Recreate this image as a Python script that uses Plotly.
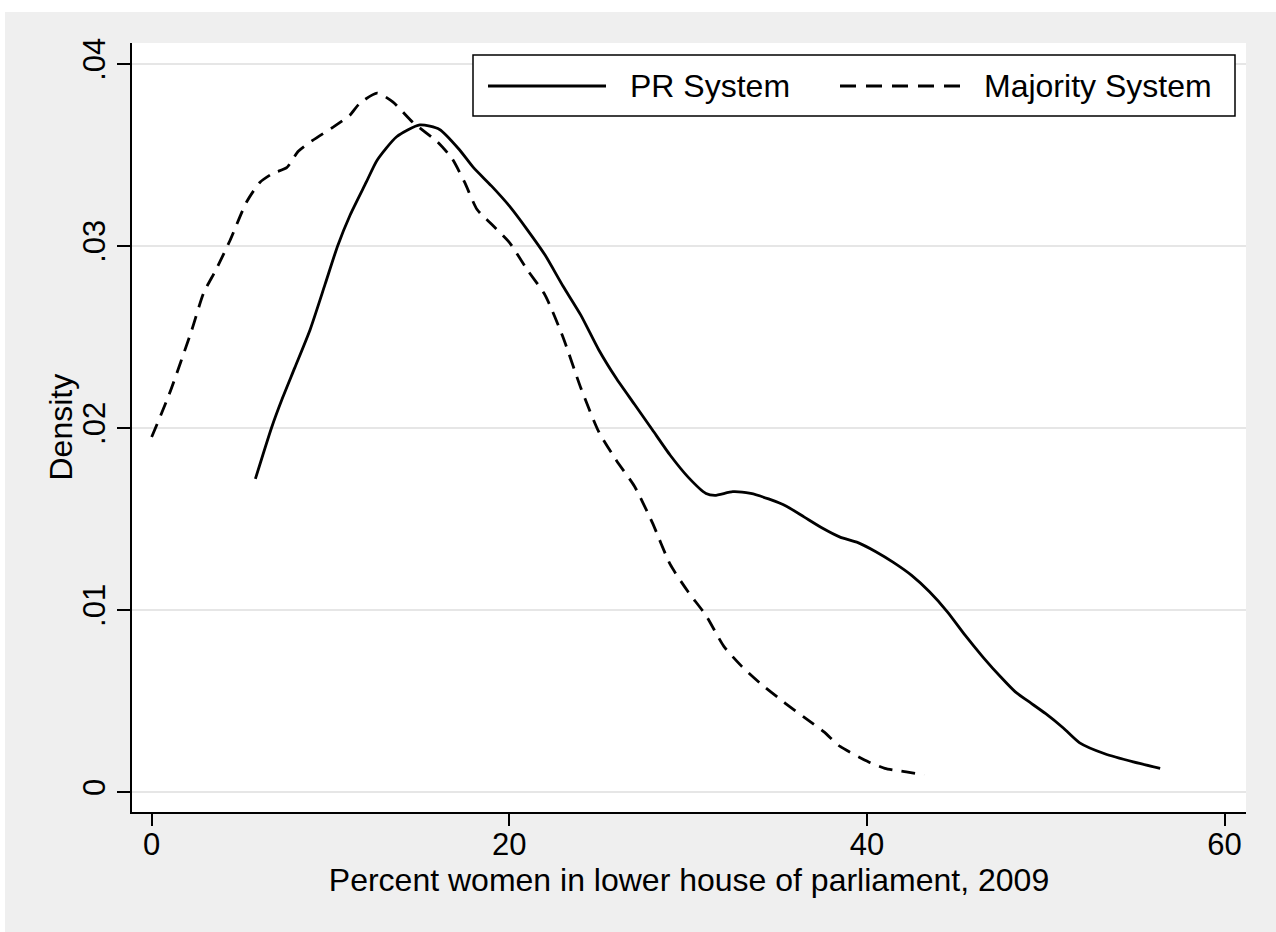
import plotly.graph_objects as go

# Kernel density estimates of percent women in the lower house (2009)
pr_x = [5.8, 6.7, 7.3, 8.0, 8.86, 9.7, 10.4, 11.1, 12.0, 12.6, 13.7, 15.0, 16.1, 17.2,
        18.0, 19.0, 20.0, 21.0, 22.0, 23.0, 24.0, 25.0, 26.0, 27.0, 28.0, 29.0, 30.0,
        31.0, 31.5, 32.5, 33.5, 34.5, 35.5, 36.5, 37.5, 38.5, 39.5, 40.5, 41.5, 42.5,
        43.5, 44.5, 45.5, 46.5, 47.5, 48.3, 49.0, 50.0, 51.0, 51.9, 53.3, 54.9, 56.4]
pr_y = [0.0172, 0.0200, 0.0216, 0.0233, 0.0254, 0.0279, 0.0300, 0.0317, 0.0335, 0.0347,
        0.0360, 0.03665, 0.0364, 0.0353, 0.0343, 0.0333, 0.0322, 0.0309, 0.0295, 0.0278,
        0.0262, 0.0243, 0.0227, 0.0213, 0.0199, 0.0185, 0.0173, 0.0164, 0.0163, 0.0165,
        0.0164, 0.0161, 0.0157, 0.0151, 0.0145, 0.0140, 0.0137, 0.0132, 0.0126, 0.0119,
        0.0110, 0.0099, 0.0086, 0.0074, 0.0063, 0.0055, 0.0050, 0.0043, 0.0035, 0.0027,
        0.0021, 0.00165, 0.0013]

maj_x = [0.0, 1.0, 2.25, 2.9, 3.6, 4.38, 5.3, 6.06, 6.8, 7.55, 8.2, 9.0, 10.1, 11.1, 11.6,
         12.6, 13.5, 14.6, 16.0, 16.8, 17.5, 18.2, 19.0, 20.0, 21.0, 22.0, 23.0, 24.0,
         25.0, 26.0, 27.0, 28.0, 29.0, 30.0, 31.0, 32.0, 33.0, 34.0, 35.4, 36.5, 37.6,
         38.5, 40.1, 41.0, 42.2, 43.2]
maj_y = [0.0195, 0.0219, 0.0254, 0.0274, 0.0287, 0.0303, 0.0324, 0.0335, 0.0340, 0.0343,
         0.0352, 0.0358, 0.0365, 0.0372, 0.0378, 0.0384, 0.0379, 0.0368, 0.0357, 0.0348,
         0.0335, 0.0320, 0.0312, 0.0302, 0.0287, 0.0273, 0.0250, 0.0222, 0.0198, 0.0182,
         0.0168, 0.0148, 0.0125, 0.0110, 0.0097, 0.0080, 0.0069, 0.0060, 0.0049, 0.0041,
         0.0033, 0.0025, 0.00165, 0.0013, 0.0011, 0.00093]

x_ticks = [0, 20, 40, 60]
y_ticks = [0, 0.01, 0.02, 0.03, 0.04]
y_ticktext = ["0", ".01", ".02", ".03", ".04"]
series_names = ["PR System", "Majority System"]
x_title = "Percent women in lower house of parliament, 2009"
y_title = "Density"

W, H = 1276, 932
ML, MR, MT, MB = 132, 30, 43, 120
PW, PH = W - ML - MR, H - MT - MB
LW = 2.8


def px_x(p):
    return (p - ML) / PW


def px_y(p):
    return (H - MB - p) / PH


FONT = "Liberation Sans, Arial, Helvetica, sans-serif"
BG = "#efefef"

fig = go.Figure()
fig.add_trace(go.Scatter(x=pr_x, y=pr_y, mode="lines", name=series_names[0],
                         line=dict(color="black", width=LW, shape="spline", smoothing=0.6)))
fig.add_trace(go.Scatter(x=maj_x, y=maj_y, mode="lines", name=series_names[1],
                         line=dict(color="black", width=LW, dash="14px,9px",
                                   shape="spline", smoothing=0.6)))

shapes = [
    # white strips framing the grey graph region
    dict(type="rect", xref="paper", yref="paper", x0=px_x(0), x1=px_x(W), y0=px_y(12), y1=px_y(0),
         fillcolor="white", line=dict(width=0), layer="below"),
    dict(type="rect", xref="paper", yref="paper", x0=px_x(0), x1=px_x(5), y0=px_y(H), y1=px_y(0),
         fillcolor="white", line=dict(width=0), layer="below"),
    # legend box and keys
    dict(type="rect", xref="paper", yref="paper", x0=px_x(473), x1=px_x(1235), y0=px_y(116), y1=px_y(55),
         fillcolor="white", line=dict(color="black", width=1.5)),
    dict(type="line", xref="paper", yref="paper", x0=px_x(488), x1=px_x(606), y0=px_y(86), y1=px_y(86),
         line=dict(color="black", width=LW)),
    dict(type="line", xref="paper", yref="paper", x0=px_x(840), x1=px_x(962), y0=px_y(86), y1=px_y(86),
         line=dict(color="black", width=LW, dash="16px,10px")),
]

annotations = [
    dict(text=series_names[0], xref="paper", yref="paper", x=px_x(628), y=px_y(86),
         xanchor="left", yanchor="middle", showarrow=False, font=dict(size=32, color="black", family=FONT)),
    dict(text=series_names[1], xref="paper", yref="paper", x=px_x(982), y=px_y(86),
         xanchor="left", yanchor="middle", showarrow=False, font=dict(size=32, color="black", family=FONT)),
    dict(text=y_title, xref="paper", yref="paper", x=px_x(60), y=0.5, textangle=-90,
         xanchor="center", yanchor="middle", showarrow=False, font=dict(size=32, color="black", family=FONT)),
]

fig.update_layout(
    width=W, height=H,
    margin=dict(l=ML, r=MR, t=MT, b=MB, autoexpand=False),
    paper_bgcolor=BG, plot_bgcolor="white",
    showlegend=False,
    font=dict(family=FONT, size=32, color="black"),
    shapes=shapes, annotations=annotations,
    xaxis=dict(
        range=[-1.10, 61.2], tickvals=x_ticks, ticks="outside", ticklen=12, tickwidth=1.5,
        tickcolor="black", showline=True, linecolor="black", linewidth=1.5, showgrid=False,
        zeroline=False, tickfont=dict(size=31), ticklabelstandoff=-8,
        title=dict(text=x_title, font=dict(size=32), standoff=4),
    ),
    yaxis=dict(
        range=[-0.0011, 0.04115], tickvals=y_ticks, ticktext=y_ticktext, tickangle=-90,
        ticks="outside", ticklen=13, tickwidth=1.5, tickcolor="black", showline=True,
        linecolor="black", linewidth=1.5, showgrid=True, gridcolor="#e6e6e6", gridwidth=2,
        zeroline=False, tickfont=dict(size=31),
    ),
)

fig.write_html("out.html")
